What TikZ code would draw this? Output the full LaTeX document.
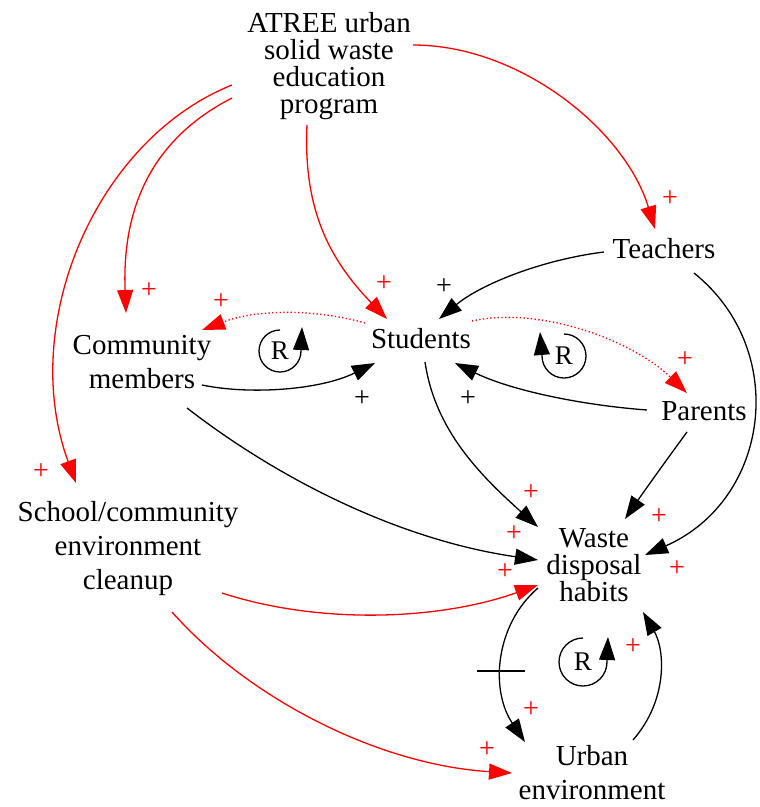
\documentclass[tikz,border=0pt]{standalone}
\usepackage{fontspec}
\setmainfont{Liberation Serif}
\usetikzlibrary{arrows.meta,calc}
\tikzset{
  lbl/.style={inner sep=0pt, align=center, font=\fontsize{29}{27}\selectfont},
  lblwide/.style={inner sep=0pt, align=center, font=\fontsize{29}{34}\selectfont},
  pl/.style={inner sep=0pt, font=\fontsize{28}{28}\selectfont, text=red},
  plk/.style={inner sep=0pt, font=\fontsize{28}{28}\selectfont, text=black},
  rl/.style={inner sep=0pt, font=\fontsize{27}{27}\selectfont},
  tipk/.style={-{Triangle[length=23pt,width=16pt]}},
  karr/.style={line width=1.3pt, black, tipk},
  rarr/.style={line width=1.3pt, red, tipk},
  rdot/.style={line width=1.3pt, red, dash pattern=on 1.3pt off 2.4pt, tipk},
  loopm/.style={line width=1.3pt, black, tipk},
  bar/.style={line width=1.3pt, black},
}
\begin{document}
\begin{tikzpicture}[x=1pt,y=-1pt]
\useasboundingbox (0,0) rectangle (760,807);
% nodes
\node[lbl] (atree) at (329,66) {ATREE urban\\solid waste\\education\\program};
\node[lbl, anchor=base] (teachers) at (664,258) {Teachers};
\node[lbl, anchor=base] (students) at (421,348) {Students};
\node[lbl, anchor=base] (parents) at (704,420) {Parents};
\node[lblwide] (community) at (142,362) {Community\\members};
\node[lblwide] (school) at (128,549) {School/community\\environment\\cleanup};
\node[lbl] (waste) at (594,565) {Waste\\disposal\\habits};
\node[lblwide] (urban) at (592,773) {Urban\\environment};

% edges from ATREE
\draw[rarr] ($(atree)+(84,-21)$) .. controls +(107,0) and +(-30,-99) .. ($(teachers.base)+(-9,-29)$);
\draw[rarr] ($(atree)+(-97,19)$) .. controls +(-137,55) and +(-58,-158) .. ($(school)+(-52,-66)$);
\draw[rarr] ($(atree)+(-97,32)$) .. controls +(-82,42) and +(-4,-103) .. ($(community)+(-16,-49)$);
\draw[rarr] ($(atree)+(-22,59)$) .. controls +(-4,85) and +(-57,-59) .. ($(students.base)+(-34,-29)$);
% teachers
\draw[karr] ($(teachers.base)+(-60,-6)$) .. controls +(-64,8) and +(41,-34) .. ($(students.base)+(18,-29)$);
\draw[karr] ($(teachers.base)+(30,15)$) .. controls +(96,77) and +(125,-55) .. ($(waste)+(51,-10)$);
% students
\draw[rdot] ($(students.base)+(-56,-25)$) .. controls +(-45,-13) and +(58,-22) .. ($(community)+(60,-32)$);
\draw[rdot] ($(students.base)+(51,-27)$) .. controls +(68,-15) and +(-55,-53) .. ($(parents.base)+(-17,-27)$);
\draw[karr] ($(students.base)+(4,14)$) .. controls +(10,68) and +(-58,-52) .. ($(waste)+(-56,-38)$);
% community
\draw[karr] ($(community)+(60,23)$) .. controls +(48,10) and +(-55,27) .. ($(students.base)+(-46,15)$);
\draw[karr] ($(community)+(45,46)$) .. controls +(93,72) and +(-138,-20) .. ($(waste)+(-56,-5)$);
% parents
\draw[karr] ($(parents.base)+(-57,-10)$) .. controls +(-67,-5) and +(55,27) .. ($(students.base)+(34,15)$);
\draw[karr] ($(parents.base)+(-17,12)$) .. controls +(-22,30) and +(20,-29) .. ($(waste)+(31,-46)$);
% school
\draw[rarr] ($(school)+(94,44)$) .. controls +(98,32) and +(-98,35) .. ($(waste)+(-56,20)$);
\draw[rarr] ($(school)+(44,63)$) .. controls +(78,88) and +(-132,-8) .. ($(urban)+(-80,0)$);
% waste <-> urban
\draw[karr] ($(waste)+(-56,23)$) .. controls +(-43,37) and +(-35,-52) .. ($(urban)+(-67,-31)$);
\draw[karr] ($(urban)+(41,-33)$) .. controls +(35,-40) and +(22,38) .. ($(waste)+(49,47)$);
\coordinate (minus) at (501,671);
\draw[bar] ($(minus)+(-24,0)$) -- ($(minus)+(24,0)$);

% loop markers
\node[rl] (r1) at (280,351) {R};
\draw[loopm] ($(r1)+(0,-21)$) arc[start angle=-90, end angle=-360, radius=21] -- ($(r1)+(22,-24)$);
\node[rl] (r2) at (564,356) {R};
\draw[loopm] ($(r2)+(0,-22)$) arc[start angle=-90, end angle=180, radius=22] -- ($(r2)+(-24,-24)$);
\node[rl] (r3) at (583,662) {R};
\draw[loopm] ($(r3)+(0,-24)$) arc[start angle=-90, end angle=-360, radius=24] -- ($(r3)+(25,-25)$);

% polarity labels
\node[pl] (p1) at (670,199) {+};
\node[pl] (p2) at (149,291) {+};
\node[pl] (p3) at (41,472) {+};
\node[pl] (p4) at (221,302) {+};
\node[pl] (p5) at (384,284) {+};
\node[plk] (p6) at (444,287) {+};
\node[pl] (p7) at (685,360) {+};
\node[plk] (p8) at (362,399) {+};
\node[plk] (p9) at (468,399) {+};
\node[pl] (p10) at (531,493) {+};
\node[pl] (p11) at (514,534) {+};
\node[pl] (p12) at (505,572) {+};
\node[pl] (p13) at (659,517) {+};
\node[pl] (p14) at (677,569) {+};
\node[pl] (p15) at (633,647) {+};
\node[pl] (p16) at (531,710) {+};
\node[pl] (p17) at (487,750) {+};
\end{tikzpicture}
\end{document}
